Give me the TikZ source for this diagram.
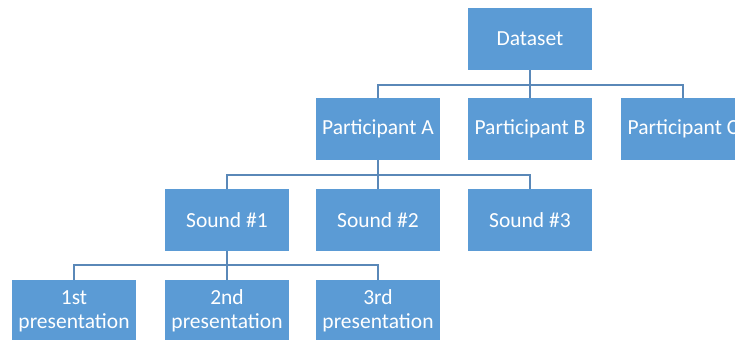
\documentclass[tikz,border=0pt]{standalone}
\usepackage{fontspec}
\setmainfont{Carlito}
\definecolor{boxblue}{HTML}{5B9BD5}
\definecolor{linecol}{HTML}{5A88B8}
\begin{document}
\begin{tikzpicture}[x=1bp,y=1bp,
  orgbox/.style={rectangle, fill=boxblue, draw=none, minimum width=124bp, minimum height=62bp,
    inner sep=0pt, text=white, align=center, font=\fontsize{21.5bp}{24bp}\selectfont},
  conn/.style={draw=linecol, line width=1.8bp}]
\useasboundingbox (0,0) rectangle (735,339);
\clip (0,0) rectangle (735,339);
\fill[white] (0,0) rectangle (735,339);
\node[orgbox] (ds) at (530,300) {Dataset};
\node[orgbox] (pa) at (378,210) {Participant A};
\node[orgbox] (pb) at (530,210) {Participant B};
\node[orgbox] (pc) at (683,210) {Participant C};
\node[orgbox] (s1) at (227,119) {Sound \#1};
\node[orgbox] (s2) at (378,119) {Sound \#2};
\node[orgbox] (s3) at (530,119) {Sound \#3};
\node[orgbox] (r1) at (74,28) {1st\\presentation};
\node[orgbox] (r2) at (227,28) {2nd\\presentation};
\node[orgbox] (r3) at (378,28) {3rd\\presentation};
\draw[conn] (ds.south) -- ++(0,-15) coordinate (j1);
\draw[conn] (pa.north) |- (j1) -| (pc.north);
\draw[conn] (j1) -- (pb.north);
\draw[conn] (pa.south) -- ++(0,-15) coordinate (j2);
\draw[conn] (s1.north) |- (j2) -| (s3.north);
\draw[conn] (j2) -- (s2.north);
\draw[conn] (s1.south) -- ++(0,-14) coordinate (j3);
\draw[conn] (r1.north) |- (j3) -| (r3.north);
\draw[conn] (j3) -- (r2.north);
\end{tikzpicture}
\end{document}
